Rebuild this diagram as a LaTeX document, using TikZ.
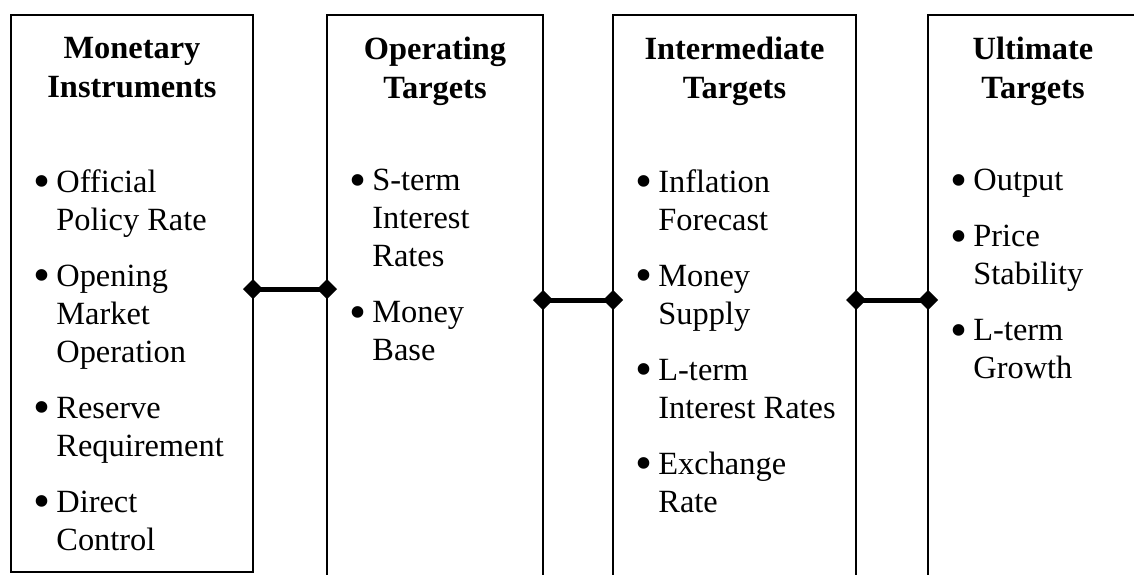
\documentclass[tikz,border=0pt]{standalone}
\usepackage{fontspec}
\usepackage{graphicx}
\setmainfont{Liberation Serif}
\usetikzlibrary{arrows.meta,positioning}

% bullet and hanging indent for the item lists
\newcommand{\bul}{\makebox[11.5pt][l]{\raisebox{-0.16em}{\scalebox{1.5}{\textbullet}}}}
\newcommand{\ind}{\hspace*{11.5pt}}

\tikzset{
  panel/.style={draw, line width=1pt, inner sep=0pt, outer sep=0pt,
    anchor=north west, minimum width=#1, minimum height=300pt},
  heading/.style={anchor=north, inner sep=0pt, align=center,
    font=\fontsize{16.2}{19.5}\selectfont\bfseries},
  items/.style={anchor=north west, inner sep=0pt, align=left,
    font=\fontsize{16.2}{19}\selectfont},
  link/.style={line width=2.5pt,
    {Diamond[length=10pt,width=10pt]}-{Diamond[length=10pt,width=10pt]},
    shorten <=-5pt, shorten >=-5pt}
}

\begin{document}
\begin{tikzpicture}[x=0.5pt,y=-0.5pt]
    \useasboundingbox (0,0) rectangle (1134,574);
    \clip (0,0) rectangle (1134,574);

    % The four panels
    \node[panel=121pt, minimum height=278.5pt] (mi) at (11,15) {};
    \node[panel=108pt] (ot) at (327,15) {};
    \node[panel=121.5pt] (it) at (613,15) {};
    \node[panel=105pt] (ut) at (928,15) {};

    % Panel headings
    \node[heading, yshift=-11pt] (mi-head) at (mi.north) {Monetary\\Instruments};
    \node[heading, yshift=-11pt] (ot-head) at (ot.north) {Operating\\Targets};
    \node[heading, yshift=-11pt] (it-head) at (it.north) {Intermediate\\Targets};
    \node[heading, yshift=-11pt] (ut-head) at (ut.north) {Ultimate\\Targets};

    % Item lists
    \node[items, xshift=11pt, yshift=-77pt] (mi-list) at (mi.north west)
        {\bul Official\\ \ind Policy Rate\\[9pt]
         \bul Opening\\ \ind Market\\ \ind Operation\\[9pt]
         \bul Reserve\\ \ind Requirement\\[9pt]
         \bul Direct\\ \ind Control};
    \node[items, xshift=11pt, yshift=-77pt] (ot-list) at (ot.north west)
        {\bul S-term\\ \ind Interest\\ \ind Rates\\[9pt]
         \bul Money\\ \ind Base};
    \node[items, xshift=11pt, yshift=-77pt] (it-list) at (it.north west)
        {\bul Inflation\\ \ind Forecast\\[9pt]
         \bul Money\\ \ind Supply\\[9pt]
         \bul L-term\\ \ind Interest Rates\\[9pt]
         \bul Exchange\\ \ind Rate};
    \node[items, xshift=11pt, yshift=-77pt] (ut-list) at (ut.north west)
        {\bul Output\\[9pt]
         \bul Price\\ \ind Stability\\[9pt]
         \bul L-term\\ \ind Growth};

    % Links between the panels
    \coordinate (lk1) at (0,289);
    \coordinate (lk2) at (0,300);
    \draw[link] (mi.east |- lk1) -- (ot.west |- lk1);
    \draw[link] (ot.east |- lk2) -- (it.west |- lk2);
    \draw[link] (it.east |- lk2) -- (ut.west |- lk2);
\end{tikzpicture}
\end{document}
